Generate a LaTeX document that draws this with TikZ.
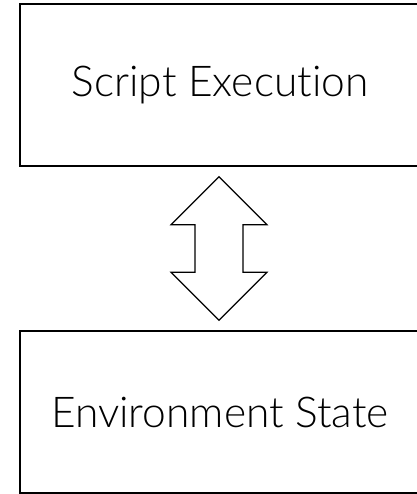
\documentclass[tikz,border=0pt]{standalone}
\usepackage{fontspec}
\setmainfont{Lato}[UprightFont=* Light, RawFeature=-liga]
\usetikzlibrary{calc}
\tikzset{
  block/.style={draw, line width=1.5pt, minimum width=400pt, minimum height=162pt,
    inner sep=0pt, font=\fontsize{42.5}{48}\selectfont},
  link/.style={draw, line width=1.2pt, line join=miter, fill=white}
}
\begin{document}
\begin{tikzpicture}[x=1pt, y=-1pt]
    \useasboundingbox (0,0) rectangle (416,494);
    \node[block] (script) at (220,85) {Script Execution};
    \node[block] (env) at (220,412) {Environment State};
    % two-headed arrow between the blocks
    \coordinate (up) at ($(script.south)+(-1,10)$);
    \coordinate (down) at ($(env.north)+(-1,-10)$);
    \path[link] (up) -- ++(48,48) -- ++(-24,0) -- ($(down)+(24,-48)$)
      -- ++(24,0) -- (down) -- ++(-48,-48) -- ++(24,0)
      -- ($(up)+(-24,48)$) -- ++(-24,0) -- cycle;
  \end{tikzpicture}
\end{document}
